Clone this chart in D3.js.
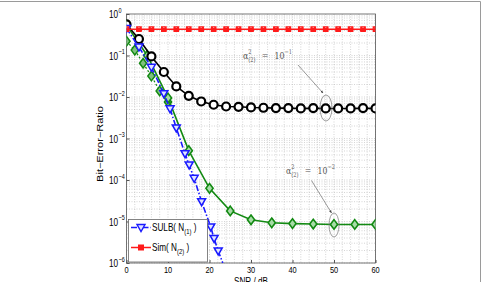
<!DOCTYPE html>
<html><head><meta charset="utf-8">
<script src="https://cdn.jsdelivr.net/npm/d3@7"></script>
<style>body{margin:0;background:#fff}svg{display:block}</style>
</head><body><svg id="c" width="485" height="282"></svg>
<script>
// ---- data ----
const xTicks = [0, 10, 20, 30, 40, 50, 60];
const yTicks = [1, 1e-1, 1e-2, 1e-3, 1e-4, 1e-5, 1e-6];
const yTickExps = ["0", "\u22121", "\u22122", "\u22123", "\u22124", "\u22125", "\u22126"];

const simSnr = [0,3,6,9,12,15,18,21,24,27,30,33,36,39,42,45,48,51,54,57,60];
const simBer = [0.43,0.43,0.43,0.43,0.43,0.43,0.43,0.43,0.43,0.43,0.43,0.43,0.43,0.43,0.43,0.43,0.43,0.43,0.43,0.43,0.43];

const a1Snr = [0,3,6,9,12,15,18,21,24,27,30,33,36,39,42,45,48,51,54,57,60];
const a1Ber = [0.56,0.25,0.095,0.04,0.018,0.0107,0.0078,0.0065,0.0059,0.0058,0.0056,0.0055,0.0054,0.0054,0.0053,0.0054,0.0053,0.0053,0.0053,0.0054,0.0053];

const a2Snr = [0,5,10,15,20,25,30,35,40,45,50,55,60];
const a2Ber = [0.54,0.1,0.0095,5.1e-4,6.3e-5,1.8e-5,1.1e-5,9.3e-6,8.9e-6,8.7e-6,8.5e-6,8.5e-6,8.5e-6];

const a2sSnr = [0,2,4,6,8,10];
const a2sBer = [0.22,0.135,0.065,0.032,0.014,0.0076];

const sulbSnr = [0,3,6,9,10.5,12,14.1,15.1,16.3,18.1,20.3,21.1,22.1,23.2];
const sulbBer = [0.45,0.16,0.052,0.012,0.0052,0.0018,4.3e-4,2.3e-4,1.1e-4,3.0e-5,7.4e-6,3.9e-6,1.95e-6,1.0e-6];
const sulbMarked = 13; // number of points with markers

const legendLabels = ["SULB( N", "Sim( N"];
const legendSubs = ["(1)", "(2)"];

// ---- layout ----
const svg = d3.select("#c");
const L = 126.5, R = 375.5, T = 14, B = 263;
const x = d3.scaleLinear().domain([0, 60]).range([L, R]);
const y = d3.scaleLog().domain([1e-6, 1]).range([B, T]);
const SX = 0.78;

// page frame
svg.append("path").attr("d", "M0,1.5H480.5V282").attr("fill", "none").attr("stroke", "#9a9a9a").attr("stroke-width", 1);

svg.append("defs").append("clipPath").attr("id", "pc")
  .append("rect").attr("x", L).attr("y", T).attr("width", R - L).attr("height", B - T);

// grid
const grid = svg.append("g").attr("stroke", "#b8b8b8").attr("stroke-width", 0.6).attr("stroke-dasharray", "1,1.5");
d3.range(0, 61, 2).forEach(v => {
  grid.append("line").attr("x1", x(v)).attr("x2", x(v)).attr("y1", T).attr("y2", B);
});
for (let e = -6; e < 0; e++) {
  for (let m = 1; m < 10; m++) {
    const v = m * Math.pow(10, e);
    grid.append("line").attr("x1", L).attr("x2", R).attr("y1", y(v)).attr("y2", y(v));
  }
}

// axes
const axB = svg.append("g").attr("transform", `translate(0,${B})`)
  .call(d3.axisBottom(x).tickValues(xTicks).tickSize(-3).tickFormat(""));
const axL = svg.append("g").attr("transform", `translate(${L},0)`)
  .call(d3.axisLeft(y).tickValues(yTicks).tickSize(-3).tickFormat(""));
[axB, axL].forEach(a => { a.selectAll("path,line").attr("stroke", "#555"); a.select(".domain").remove(); });
svg.append("rect").attr("x", L).attr("y", T).attr("width", R - L).attr("height", B - T)
  .attr("fill", "none").attr("stroke", "#555").attr("stroke-width", 0.8);

function stext(px, py, anchor, size, fill) {
  return svg.append("g").attr("transform", `translate(${px},${py}) scale(${SX},1)`)
    .append("text").attr("text-anchor", anchor).attr("font-family", "Liberation Sans, Arial, sans-serif")
    .attr("font-size", size).attr("fill", fill || "#000");
}

// tick labels
xTicks.forEach(v => stext(x(v), 273, "middle", 9.5).text(v));
yTicks.forEach((v, i) => {
  stext(118, y(v) + 4, "end", 10.5).text("10");
  stext(118.5, y(v) - 1.5, "start", 7).text(yTickExps[i]);
});

// axis titles
svg.append("text").attr("transform", `translate(103,144) rotate(-90) scale(1,${SX})`)
  .attr("text-anchor", "middle").attr("font-family", "Liberation Sans, Arial, sans-serif")
  .attr("font-size", 11).text("Bit\u2212Error\u2212Ratio");
stext(x(30), 284.5, "middle", 10.5).text("SNR / dB");

// series
const plot = svg.append("g").attr("clip-path", "url(#pc)");
const line = d3.line().x(d => x(d[0])).y(d => y(d[1]));
const zip = (a, b) => a.map((v, i) => [v, b[i]]);

const red = "#ff1a1a", green = "#138a13", blue = "#1a1aff";
const redMark = "M-2.3,-2.3h4.6v4.6h-4.6z M-2.3,-2.3L2.3,2.3 M2.3,-2.3L-2.3,2.3";
const triMark = "M-4,-3L4,-3L0,4Z";
const diaMark = "M0,-4.8L3.6,0L0,4.8L-3.6,0Z";

function drawSeries(data, color, width, dash, mark, markFill, markStroke, n) {
  plot.append("path").attr("d", line(data)).attr("fill", "none").attr("stroke", color)
    .attr("stroke-width", width).attr("stroke-dasharray", dash || null);
  const pts = data.slice(0, n == null ? data.length : n);
  if (mark === "circle") {
    plot.selectAll(null).data(pts).enter().append("circle")
      .attr("cx", d => x(d[0])).attr("cy", d => y(d[1])).attr("r", 4)
      .attr("fill", markFill).attr("stroke", color).attr("stroke-width", markStroke);
  } else {
    plot.selectAll(null).data(pts).enter().append("path")
      .attr("transform", d => `translate(${x(d[0])},${y(d[1])})`).attr("d", mark)
      .attr("fill", markFill).attr("stroke", color).attr("stroke-width", markStroke);
  }
}

drawSeries(zip(a2sSnr, a2sBer), green, 1.3, "2,2", diaMark, "#7fc07f", 1.5);
drawSeries(zip(a2Snr, a2Ber), green, 1.6, null, diaMark, "#a8dca8", 1.6);
drawSeries(zip(a1Snr, a1Ber), "#000", 1.6, null, "circle", "#fff", 2.2);
drawSeries(zip(sulbSnr, sulbBer), blue, 1.6, "6,2,1.5,2", triMark, "#dfe4ff", 1.5, sulbMarked);
drawSeries(zip(simSnr, simBer), red, 1.5, null, redMark, "none", 1.1);

// annotations
const ann = svg.append("g");
ann.append("defs").append("marker").attr("id", "ah").attr("viewBox", "0 0 10 10")
  .attr("refX", 9).attr("refY", 5).attr("markerWidth", 5).attr("markerHeight", 5).attr("orient", "auto")
  .append("path").attr("d", "M0,1L10,5L0,9Z").attr("fill", "#444");
function annot(tx, ty, exp, ax1, ay1, ax2, ay2, ex, ey, rx, ry) {
  const g = svg.append("g").attr("transform", `translate(${tx},${ty}) scale(${SX},1)`)
    .append("text").attr("font-family", "DejaVu Serif, serif").attr("font-size", 10).attr("fill", "#555");
  g.append("tspan").text("\u03b1");
  g.append("tspan").attr("font-size", 6.5).attr("dy", -5).text("2");
  g.append("tspan").attr("font-size", 6.5).attr("dx", -4).attr("dy", 8).text("(2)");
  g.append("tspan").attr("dy", -3).attr("dx", 8).text("=");
  g.append("tspan").attr("dx", 8).text("10");
  g.append("tspan").attr("font-size", 6.5).attr("dy", -5).text(exp);
  svg.append("line").attr("x1", ax1).attr("y1", ay1).attr("x2", ax2).attr("y2", ay2)
    .attr("stroke", "#555").attr("stroke-width", 0.6).attr("marker-end", "url(#ah)");
  svg.append("ellipse").attr("cx", ex).attr("cy", ey).attr("rx", rx).attr("ry", ry)
    .attr("fill", "none").attr("stroke", "#777").attr("stroke-width", 0.7);
}
annot(243, 59, "\u22121", 298, 65, 323, 93, 326, 108, 6, 13);
annot(286, 174, "\u22122", 311.5, 180.5, 331.5, 213, 334, 225, 5, 12);

// legend
svg.append("rect").attr("x", 128.5).attr("y", 219.5).attr("width", 79).attr("height", 42.5)
  .attr("fill", "#fff").attr("stroke", "#666").attr("stroke-width", 0.8);
const legColors = [blue, red], legMarks = [triMark, redMark], legDash = ["6,2,1.5,2", null],
      legFill = ["#dfe4ff", "none"], legY = [227.5, 247.5];
legendLabels.forEach((lab, i) => {
  svg.append("line").attr("x1", 131).attr("x2", 151).attr("y1", legY[i]).attr("y2", legY[i])
    .attr("stroke", legColors[i]).attr("stroke-width", 1.5).attr("stroke-dasharray", legDash[i]);
  svg.append("path").attr("transform", `translate(141,${legY[i]})`).attr("d", legMarks[i])
    .attr("fill", legFill[i]).attr("stroke", legColors[i]).attr("stroke-width", 1.4);
  const t = stext(152, legY[i] + 3, "start", 10.5);
  t.append("tspan").text(lab);
  t.append("tspan").attr("font-size", 7.5).attr("dy", 3).text(legendSubs[i]);
  t.append("tspan").attr("dy", -3).text(" )");
});
</script></body></html>
